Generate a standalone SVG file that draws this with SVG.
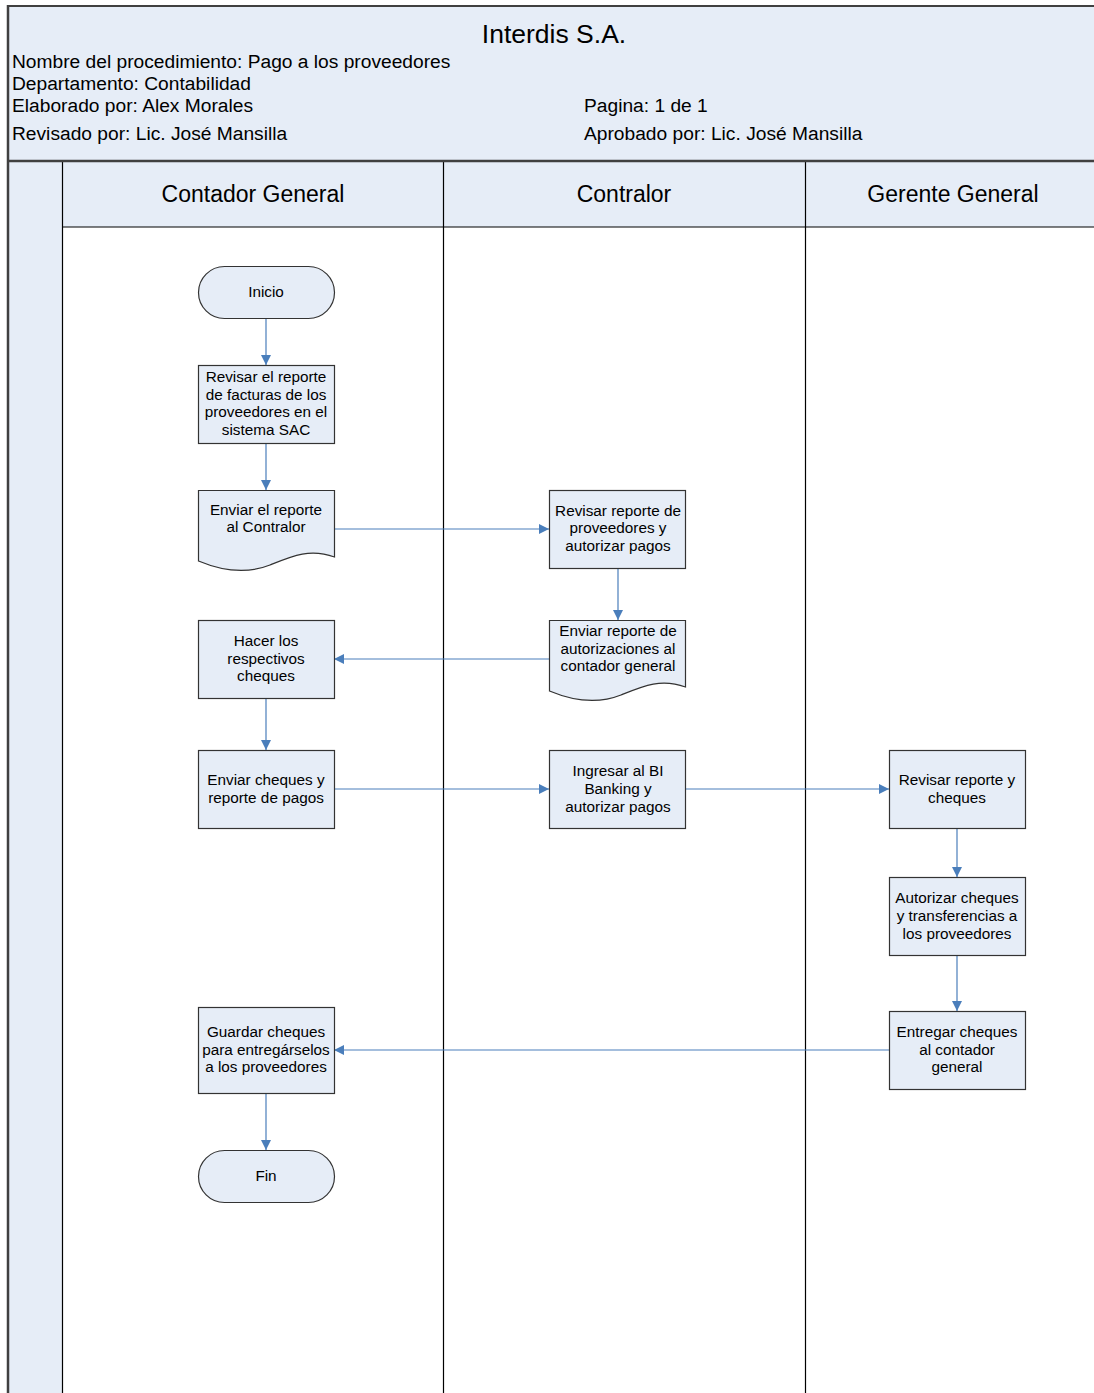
<svg xmlns="http://www.w3.org/2000/svg" width="1094" height="1393" viewBox="0 0 1094 1393">
  <style>
    text { font-family: "Liberation Sans", Arial, sans-serif; fill: #000; }
    .hdr { font-size: 19.2px; }
    .title { font-size: 26.5px; text-anchor: middle; }
    .lane { font-size: 23px; text-anchor: middle; }
    .lbl { font-size: 15.3px; text-anchor: middle; }
    .band { fill: #e6edf7; }
    .shape { fill: #e6edf7; stroke: #333; stroke-width: 1.2; }
    .edge { stroke: #4a7ebb; stroke-width: 1.2; fill: none; marker-end: url(#arr); }
  </style>
  <defs>
    <marker id="arr" viewBox="0 0 10 10" refX="10" refY="5" markerWidth="10" markerHeight="10" markerUnits="userSpaceOnUse" orient="auto">
      <path d="M0,0 L10,5 L0,10 Z" fill="#4a7ebb"/>
    </marker>
  </defs>

  <rect width="1094" height="1393" fill="#fff"/>

  <!-- header block -->
  <g id="header">
    <rect class="band" x="8" y="6" width="1090" height="155"/>
    <text class="title" x="554" y="43">Interdis S.A.</text>
    <text class="hdr" x="12" y="68">Nombre del procedimiento: Pago a los proveedores</text>
    <text class="hdr" x="12" y="90">Departamento: Contabilidad</text>
    <text class="hdr" x="12" y="112">Elaborado por: Alex Morales</text>
    <text class="hdr" x="12" y="140">Revisado por: Lic. José Mansilla</text>
    <text class="hdr" x="584" y="112">Pagina: 1 de 1</text>
    <text class="hdr" x="584" y="140">Aprobado por: Lic. José Mansilla</text>
  </g>

  <!-- swimlanes -->
  <g id="lanes">
    <rect class="band" x="8" y="161" width="54" height="1240"/>
    <rect class="band" x="62" y="161" width="1040" height="66"/>
    <text class="lane" x="253" y="202">Contador General</text>
    <text class="lane" x="624" y="202">Contralor</text>
    <text class="lane" x="953" y="202">Gerente General</text>
    <line x1="62" y1="227" x2="1094" y2="227" stroke="#000" stroke-width="1"/>
    <line x1="62.5" y1="161" x2="62.5" y2="1393" stroke="#000" stroke-width="1.2"/>
    <line x1="443.5" y1="161" x2="443.5" y2="1393" stroke="#000" stroke-width="1.2"/>
    <line x1="805.5" y1="161" x2="805.5" y2="1393" stroke="#000" stroke-width="1.2"/>
    <!-- frame -->
    <line x1="8" y1="6" x2="1094" y2="6" stroke="#404040" stroke-width="2"/>
    <line x1="8" y1="5" x2="8" y2="1393" stroke="#404040" stroke-width="2.5"/>
    <line x1="8" y1="161" x2="1094" y2="161" stroke="#404040" stroke-width="2.5"/>
  </g>

  <!-- connectors -->
  <g id="connectors">
    <line class="edge" x1="266" y1="318" x2="266" y2="365"/>
    <line class="edge" x1="266" y1="443" x2="266" y2="490"/>
    <line class="edge" x1="334" y1="529" x2="549" y2="529"/>
    <line class="edge" x1="618" y1="568" x2="618" y2="620"/>
    <line class="edge" x1="549" y1="659" x2="334" y2="659"/>
    <line class="edge" x1="266" y1="698" x2="266" y2="750"/>
    <line class="edge" x1="334" y1="789" x2="549" y2="789"/>
    <line class="edge" x1="686" y1="789" x2="889" y2="789"/>
    <line class="edge" x1="957" y1="828" x2="957" y2="877"/>
    <line class="edge" x1="957" y1="955" x2="957" y2="1011"/>
    <line class="edge" x1="889" y1="1050" x2="334" y2="1050"/>
    <line class="edge" x1="266" y1="1093" x2="266" y2="1150"/>
  </g>

  <!-- nodes -->
  <g id="n-inicio">
    <rect class="shape" x="198.5" y="266.5" width="136" height="52" rx="26" ry="26"/>
    <text class="lbl" x="266" y="297">Inicio</text>
  </g>
  <g id="n-revisar-sac">
    <rect class="shape" x="198.5" y="365.5" width="136" height="78"/>
    <text class="lbl" x="266" y="382">Revisar el reporte</text>
    <text class="lbl" x="266" y="400">de facturas de los</text>
    <text class="lbl" x="266" y="417">proveedores en el</text>
    <text class="lbl" x="266" y="435">sistema SAC</text>
  </g>
  <g id="n-enviar-reporte">
    <path class="shape" d="M198.5,490.5 H334.5 V557 C310,548 292,556 270,565 C245,575 220,570 198.5,561 Z"/>
    <text class="lbl" x="266" y="515">Enviar el reporte</text>
    <text class="lbl" x="266" y="532">al Contralor</text>
  </g>
  <g id="n-revisar-proveedores">
    <rect class="shape" x="549.5" y="490.5" width="136" height="78"/>
    <text class="lbl" x="618" y="516">Revisar reporte de</text>
    <text class="lbl" x="618" y="533">proveedores y</text>
    <text class="lbl" x="618" y="551">autorizar pagos</text>
  </g>
  <g id="n-enviar-autorizaciones">
    <path class="shape" d="M549.5,620.5 H685.5 V687 C661,678 643,686 621,695 C596,705 571,700 549.5,691 Z"/>
    <text class="lbl" x="618" y="636">Enviar reporte de</text>
    <text class="lbl" x="618" y="654">autorizaciones al</text>
    <text class="lbl" x="618" y="671">contador general</text>
  </g>
  <g id="n-hacer-cheques">
    <rect class="shape" x="198.5" y="620.5" width="136" height="78"/>
    <text class="lbl" x="266" y="646">Hacer los</text>
    <text class="lbl" x="266" y="664">respectivos</text>
    <text class="lbl" x="266" y="681">cheques</text>
  </g>
  <g id="n-enviar-cheques">
    <rect class="shape" x="198.5" y="750.5" width="136" height="78"/>
    <text class="lbl" x="266" y="785">Enviar cheques y</text>
    <text class="lbl" x="266" y="803">reporte de pagos</text>
  </g>
  <g id="n-ingresar-bi">
    <rect class="shape" x="549.5" y="750.5" width="136" height="78"/>
    <text class="lbl" x="618" y="776">Ingresar al BI</text>
    <text class="lbl" x="618" y="794">Banking y</text>
    <text class="lbl" x="618" y="812">autorizar pagos</text>
  </g>
  <g id="n-revisar-cheques">
    <rect class="shape" x="889.5" y="750.5" width="136" height="78"/>
    <text class="lbl" x="957" y="785">Revisar reporte y</text>
    <text class="lbl" x="957" y="803">cheques</text>
  </g>
  <g id="n-autorizar-cheques">
    <rect class="shape" x="889.5" y="877.5" width="136" height="78"/>
    <text class="lbl" x="957" y="903">Autorizar cheques</text>
    <text class="lbl" x="957" y="921">y transferencias a</text>
    <text class="lbl" x="957" y="939">los proveedores</text>
  </g>
  <g id="n-entregar-cheques">
    <rect class="shape" x="889.5" y="1011.5" width="136" height="78"/>
    <text class="lbl" x="957" y="1037">Entregar cheques</text>
    <text class="lbl" x="957" y="1055">al contador</text>
    <text class="lbl" x="957" y="1072">general</text>
  </g>
  <g id="n-guardar-cheques">
    <rect class="shape" x="198.5" y="1007.5" width="136" height="86"/>
    <text class="lbl" x="266" y="1037">Guardar cheques</text>
    <text class="lbl" x="266" y="1055">para entregárselos</text>
    <text class="lbl" x="266" y="1072">a los proveedores</text>
  </g>
  <g id="n-fin">
    <rect class="shape" x="198.5" y="1150.5" width="136" height="52" rx="26" ry="26"/>
    <text class="lbl" x="266" y="1181">Fin</text>
  </g>
</svg>
